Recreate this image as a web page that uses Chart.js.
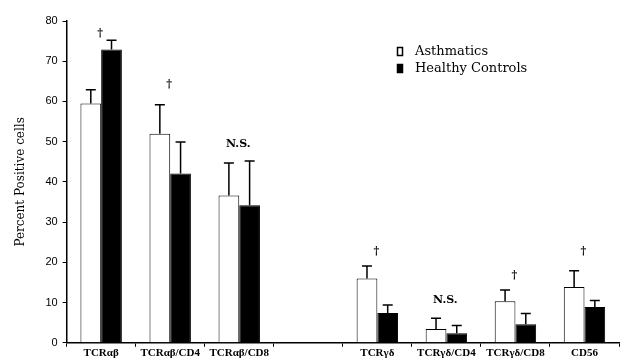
<!DOCTYPE html>
<html>
<head>
<meta charset="utf-8">
<script src="https://cdn.jsdelivr.net/npm/chart.js@4"></script>
<style>
  html, body { margin: 0; padding: 0; background: #fff; }
  #wrap { width: 624px; height: 363px; }
</style>
</head>
<body>
<div id="wrap"><canvas id="chart" width="624" height="363"></canvas></div>
<script>
const categories = ['TCRαβ', 'TCRαβ/CD4', 'TCRαβ/CD8', '', 'TCRγδ', 'TCRγδ/CD4', 'TCRγδ/CD8', 'CD56'];
const asthmatics = [59.5, 52.0, 36.6, null, 16.0, 3.4, 10.3, 13.9];
const asthmaticsErr = [3.4, 7.2, 8.1, null, 3.1, 2.7, 2.8, 4.0];
const controls = [72.9, 42.1, 34.2, null, 7.4, 2.4, 4.6, 8.9];
const controlsErr = [2.3, 7.8, 11.0, null, 2.0, 1.9, 2.7, 1.6];
const marks = ['†', '†', 'N.S.', '', '†', 'N.S.', '†', '†'];
const markValues = [77, 64.3, 49.4, null, 22.9, 10.7, 16.9, 22.7];
const yTicks = [0, 10, 20, 30, 40, 50, 60, 70, 80];

const errs = [asthmaticsErr, controlsErr];

const extras = {
  id: 'extras',
  afterDatasetsDraw(chart) {
    const ctx = chart.ctx;
    const y = chart.scales.y;
    const x = chart.scales.x;
    ctx.save();
    ctx.strokeStyle = '#000';
    ctx.lineWidth = 1.5;
    chart.data.datasets.forEach((ds, i) => {
      const meta = chart.getDatasetMeta(i);
      meta.data.forEach((bar, j) => {
        if (ds.data[j] == null || errs[i][j] == null) return;
        const top = y.getPixelForValue(ds.data[j] + errs[i][j]);
        ctx.beginPath();
        ctx.moveTo(bar.x, bar.y);
        ctx.lineTo(bar.x, top);
        ctx.moveTo(bar.x - 5, top);
        ctx.lineTo(bar.x + 5, top);
        ctx.stroke();
      });
    });

    // significance marks
    ctx.fillStyle = '#000';
    ctx.textAlign = 'center';
    ctx.textBaseline = 'middle';
    ctx.font = 'bold 11px "DejaVu Serif"';
    marks.forEach((m, j) => {
      if (!m) return;
      ctx.fillText(m, x.getPixelForValue(j) - 1, y.getPixelForValue(markValues[j]));
    });

    // legend
    ctx.font = '13px "DejaVu Serif"';
    ctx.textAlign = 'left';
    ctx.lineWidth = 1.5;
    chart.data.datasets.forEach((ds, i) => {
      const ly = 47 + i * 17;
      ctx.fillStyle = ds.backgroundColor;
      ctx.fillRect(397, ly, 6, 9);
      ctx.strokeRect(397.5, ly + 0.5, 5, 8);
      ctx.fillStyle = '#000';
      ctx.fillText(ds.label, 415, ly + 4.5);
    });
    ctx.restore();
  }
};

new Chart(document.getElementById('chart'), {
  type: 'bar',
  data: {
    labels: categories,
    datasets: [
      {
        label: 'Asthmatics',
        data: asthmatics,
        backgroundColor: '#ffffff',
        borderColor: '#000000',
        borderWidth: 1
      },
      {
        label: 'Healthy Controls',
        data: controls,
        backgroundColor: '#000000',
        borderColor: '#000000',
        borderWidth: 1
      }
    ]
  },
  options: {
    responsive: false,
    animation: false,
    layout: { padding: { top: 21, right: 5, bottom: 3, left: 14 } },
    datasets: {
      bar: { barPercentage: 1, categoryPercentage: 0.6 }
    },
    plugins: {
      legend: { display: false },
      tooltip: { enabled: false }
    },
    scales: {
      x: {
        grid: { offset: true, drawOnChartArea: false, tickLength: 4, color: '#000' },
        border: { color: '#000', width: 1.5 },
        ticks: {
          color: '#000',
          font: { family: '"Liberation Serif"', size: 11, weight: 'bold' },
          maxRotation: 0,
          autoSkip: false,
          padding: 0
        }
      },
      y: {
        min: 0,
        max: 80,
        afterBuildTicks: axis => { axis.ticks = yTicks.map(v => ({ value: v })); },
        grid: { drawOnChartArea: false, tickLength: 4, color: '#000' },
        border: { color: '#000', width: 1.5 },
        ticks: {
          color: '#000',
          font: { family: '"Liberation Sans"', size: 11 },
          padding: 5
        },
        title: {
          display: true,
          text: 'Percent Positive cells',
          color: '#000',
          font: { family: '"DejaVu Serif"', size: 12 },
          padding: { top: 0, bottom: 12 }
        }
      }
    }
  },
  plugins: [extras]
});
</script>
</body>
</html>
